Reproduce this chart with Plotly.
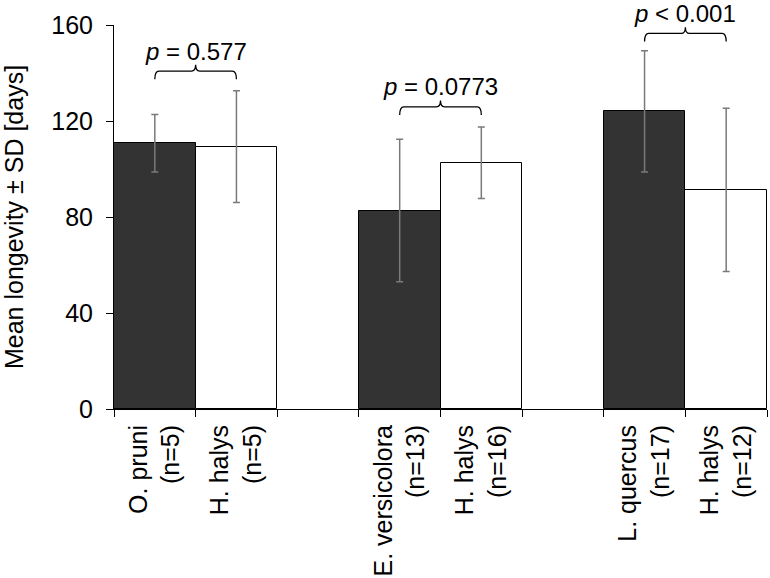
import plotly.graph_objects as go

# ---- data ----
categories = ["O. pruni<br>(n=5)", "H. halys<br>(n=5)", " ",
              "E. versicolora<br>(n=13)", "H. halys<br>(n=16)", "  ",
              "L. quercus<br>(n=17)", "H. halys<br>(n=12)"]
means = [110.7, 109.3, None, 82.7, 102.6, None, 124.0, 91.3]
sds = [12.0, 23.3, None, 29.7, 14.9, None, 25.3, 34.0]
bar_colors = ["#333333", "#ffffff", "#ffffff", "#333333", "#ffffff", "#ffffff", "#333333", "#ffffff"]

# comparisons: (index a, index b, bracket level, label)
comparisons = [
    (0, 1, 140.8, "<i>p</i> = 0.577"),
    (3, 4, 125.9, "<i>p</i> = 0.0773"),
    (6, 7, 156.5, "<i>p</i> < 0.001"),
]
y_ticks = [0, 40, 80, 120, 160]
y_max = 160

FONT = "Arial, Liberation Sans, sans-serif"

fig = go.Figure()
fig.add_trace(go.Bar(
    x=categories, y=means,
    marker=dict(color=bar_colors, line=dict(color="#000000", width=1)),
    error_y=dict(type="data", array=sds, visible=True, color="#7a7a7a",
                 thickness=1.5, width=3.5),
    showlegend=False,
))

shapes = []
annotations = []
for a, b, lvl, lab in comparisons:
    drop = 3.4
    rise = 2.6
    dx = 0.05
    xm = (a + b) / 2
    path = (f"M {a},{lvl - drop} Q {a},{lvl} {a + dx},{lvl} "
            f"L {xm - dx},{lvl} Q {xm},{lvl} {xm},{lvl + rise} "
            f"Q {xm},{lvl} {xm + dx},{lvl} "
            f"L {b - dx},{lvl} Q {b},{lvl} {b},{lvl - drop}")
    shapes.append(dict(type="path", xref="x", yref="y", path=path,
                       line=dict(color="#000000", width=1.3)))
    annotations.append(dict(x=xm, y=(lvl + 8.3) / y_max, xref="x", yref="paper", text=lab,
                            showarrow=False, yanchor="middle", xanchor="center",
                            font=dict(size=24, color="#000000", family=FONT)))

fig.update_layout(
    width=770, height=578,
    margin=dict(l=114, r=3, t=25, b=169),
    paper_bgcolor="#ffffff", plot_bgcolor="#ffffff",
    bargap=0,
    font=dict(family=FONT, size=25, color="#000000"),
    shapes=shapes, annotations=annotations,
    xaxis=dict(type="category", categoryorder="array", categoryarray=categories,
               tickson="boundaries", ticks="outside", ticklen=7, tickcolor="#000000",
               showline=True, linecolor="#000000", linewidth=1, tickangle=-90,
               showgrid=False, tickmode="linear", tick0=0, dtick=1,
               ticklabelstandoff=5,
               tickfont=dict(size=25, family=FONT), range=[-0.5, 7.5]),
    yaxis=dict(range=[0, y_max], tickvals=y_ticks, ticks="outside", ticklen=7,
               tickcolor="#000000", showline=True, linecolor="#000000", linewidth=1,
               showgrid=False, zeroline=False, ticklabelstandoff=8,
               tickfont=dict(size=25, family=FONT),
               title=dict(text="Mean longevity ± SD [days]", standoff=20,
                          font=dict(size=25, family=FONT))),
)

fig.write_html("out.html", config={"displayModeBar": False},
               post_script="document.body.style.margin='0';")
